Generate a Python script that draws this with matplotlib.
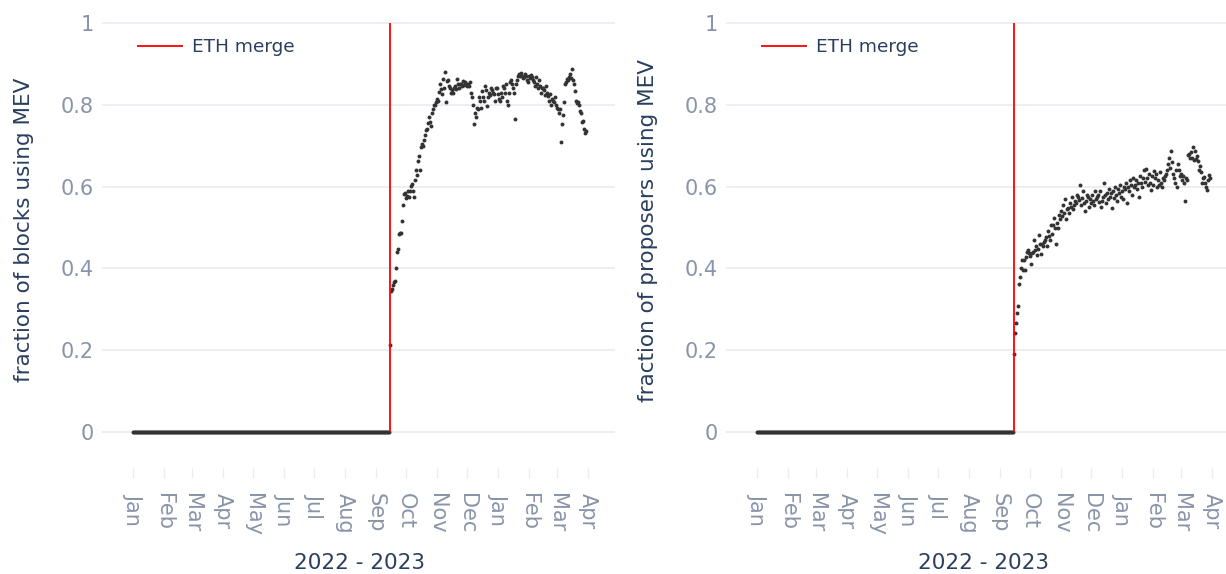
import matplotlib
matplotlib.use('Agg')
import matplotlib.pyplot as plt
import matplotlib.dates as mdates
import numpy as np
import pandas as pd

# daily series, starting 2022-01-01; zero until the merge on 2022-09-15
start_date = '2022-01-01'
merge_date = '2022-09-15'
pre_merge_days = 257

# fraction of blocks using MEV, daily from 2022-09-15
blocks_mev = [
    0.212, 0.346, 0.35, 0.36, 0.368, 0.37, 0.40,
    0.44, 0.448, 0.483, 0.486, 0.487, 0.515, 0.554,
    0.583, 0.585, 0.571, 0.578, 0.59, 0.575, 0.59,
    0.602, 0.607, 0.59, 0.574, 0.617, 0.641, 0.629,
    0.663, 0.676, 0.641, 0.698, 0.704, 0.70, 0.714,
    0.725, 0.739, 0.74, 0.755, 0.769, 0.759, 0.749,
    0.781, 0.79, 0.80, 0.80, 0.806, 0.814, 0.81,
    0.832, 0.85, 0.838, 0.826, 0.863, 0.84, 0.879,
    0.806, 0.859, 0.86, 0.845, 0.84, 0.83, 0.835,
    0.83, 0.842, 0.846, 0.838, 0.863, 0.85, 0.84,
    0.852, 0.85, 0.845, 0.859, 0.848, 0.855, 0.85,
    0.846, 0.85, 0.846, 0.855, 0.83, 0.818, 0.80,
    0.753, 0.78, 0.769, 0.793, 0.79, 0.818, 0.81,
    0.793, 0.834, 0.82, 0.81, 0.846, 0.835, 0.797,
    0.818, 0.83, 0.825, 0.842, 0.835, 0.83, 0.826,
    0.81, 0.84, 0.842, 0.826, 0.815, 0.81, 0.83,
    0.82, 0.845, 0.84, 0.83, 0.85, 0.81, 0.80,
    0.83, 0.855, 0.86, 0.85, 0.84, 0.83, 0.765,
    0.85, 0.86, 0.87, 0.876, 0.87, 0.878, 0.87,
    0.865, 0.867, 0.875, 0.87, 0.86, 0.855, 0.87,
    0.865, 0.872, 0.867, 0.86, 0.855, 0.845, 0.867,
    0.85, 0.84, 0.861, 0.845, 0.83, 0.84, 0.842,
    0.835, 0.825, 0.845, 0.83, 0.822, 0.81, 0.826,
    0.80, 0.815, 0.81, 0.806, 0.82, 0.80, 0.793,
    0.79, 0.781, 0.79, 0.708, 0.753, 0.775, 0.806,
    0.85, 0.855, 0.862, 0.86, 0.867, 0.875, 0.865,
    0.887, 0.86, 0.85, 0.834, 0.81, 0.805, 0.806,
    0.80, 0.785, 0.78, 0.757, 0.76, 0.74, 0.732,
    0.735,
]

# fraction of proposers using MEV, daily from 2022-09-15
proposers_mev = [
    0.192, 0.243, 0.266, 0.29, 0.309, 0.363, 0.379,
    0.40, 0.421, 0.397, 0.42, 0.397, 0.428, 0.44,
    0.446, 0.437, 0.43, 0.411, 0.437, 0.44, 0.47,
    0.444, 0.456, 0.432, 0.448, 0.482, 0.46, 0.436,
    0.459, 0.454, 0.464, 0.47, 0.476, 0.456, 0.491,
    0.479, 0.47, 0.505, 0.485, 0.507, 0.524, 0.50,
    0.459, 0.512, 0.50, 0.53, 0.52, 0.54, 0.528,
    0.555, 0.535, 0.57, 0.52, 0.545, 0.548, 0.535,
    0.56, 0.55, 0.575, 0.545, 0.555, 0.565, 0.56,
    0.58, 0.575, 0.568, 0.605, 0.555, 0.572, 0.59,
    0.56, 0.54, 0.565, 0.58, 0.575, 0.55, 0.57,
    0.56, 0.58, 0.565, 0.555, 0.59, 0.57, 0.575,
    0.58, 0.562, 0.59, 0.55, 0.565, 0.575, 0.61,
    0.58, 0.56, 0.585, 0.57, 0.595, 0.575, 0.585,
    0.547, 0.59, 0.572, 0.60, 0.58, 0.565, 0.595,
    0.585, 0.605, 0.575, 0.59, 0.57, 0.60, 0.595,
    0.61, 0.559, 0.60, 0.59, 0.615, 0.605, 0.58,
    0.62, 0.60, 0.605, 0.615, 0.595, 0.61, 0.574,
    0.625, 0.61, 0.60, 0.62, 0.641, 0.612, 0.643,
    0.62, 0.605, 0.63, 0.61, 0.592, 0.625, 0.605,
    0.639, 0.62, 0.63, 0.60, 0.615, 0.605, 0.635,
    0.61, 0.60, 0.62, 0.615, 0.625, 0.631, 0.64,
    0.655, 0.669, 0.645, 0.686, 0.66, 0.63, 0.62,
    0.61, 0.64, 0.60, 0.655, 0.64, 0.625, 0.632,
    0.615, 0.625, 0.61, 0.566, 0.62, 0.616, 0.678,
    0.68, 0.67, 0.684, 0.67, 0.698, 0.665, 0.688,
    0.668, 0.675, 0.663, 0.64, 0.651, 0.635, 0.608,
    0.62, 0.623, 0.61, 0.60, 0.592, 0.615, 0.628,
    0.62,
]

y_labels = ['fraction of blocks using MEV', 'fraction of proposers using MEV']
month_ticks = pd.date_range('2022-01-01', '2023-04-01', freq='MS')
y_ticks = [0, 0.2, 0.4, 0.6, 0.8, 1]

title_color = '#2a3f5f'
tick_color = '#8a94a8'
grid_color = '#e8ecf3'

W, H = 1226, 574
fig = plt.figure(figsize=(W / 100, H / 100), dpi=100)

# axes boxes in pixels: left, top, width, bottom, x-title centre
boxes = [(102, 22, 513, 468, 359), (726, 22, 513, 468, 983)]

for box, series, ylab in zip(boxes, [blocks_mev, proposers_mev], y_labels):
    left, top, width, bottom, xmid = box
    h = bottom - top
    ax = fig.add_axes([left / W, 1 - bottom / H, width / W, h / H])

    values = np.concatenate([np.zeros(pre_merge_days), series])
    dates = pd.date_range(start_date, periods=len(values), freq='D')

    ax.scatter(dates, values, s=8, color='#333333', linewidths=0, zorder=3)
    ax.vlines(pd.Timestamp(merge_date), 0, 1, color='red', lw=1.3, zorder=4,
              label='ETH merge')

    ax.set_xlim(pd.Timestamp('2021-12-01'), pd.Timestamp('2021-12-01') + pd.Timedelta(days=width))
    ax.set_ylim(-(bottom - 432) / 410, 1.0 + 1 / 410)

    ax.set_yticks(y_ticks)
    ax.set_yticklabels(['0', '0.2', '0.4', '0.6', '0.8', '1'])
    ax.set_xticks(month_ticks)
    ax.xaxis.set_major_formatter(mdates.DateFormatter('%b'))

    ax.grid(axis='y', color=grid_color, lw=1.2)
    ax.set_axisbelow(True)
    for s in ax.spines.values():
        s.set_visible(False)

    ax.tick_params(axis='y', length=0, pad=6, labelsize=15, labelcolor=tick_color)
    ax.tick_params(axis='x', length=7, width=1, color=grid_color, pad=11,
                   labelsize=15, labelcolor=tick_color, labelrotation=-90)
    for lbl in ax.get_xticklabels():
        lbl.set_verticalalignment('top')

    ax.set_ylabel(ylab, fontsize=15.5, color=title_color)
    ax.yaxis.set_label_coords(-68 / width, (bottom - 230) / h)
    ax.set_xlabel('2022 - 2023', fontsize=15.5, color=title_color, va='center')
    ax.xaxis.set_label_coords((xmid - left) / width, -(563 - bottom) / h)

    leg = ax.legend(loc='upper left', frameon=False, fontsize=13.3,
                    handlelength=2.5, handletextpad=0.5, borderpad=0, borderaxespad=0,
                    bbox_to_anchor=(35 / width, 1 - 16 / h))
    for t in leg.get_texts():
        t.set_color(title_color)

fig.savefig('out.png', dpi=100)
